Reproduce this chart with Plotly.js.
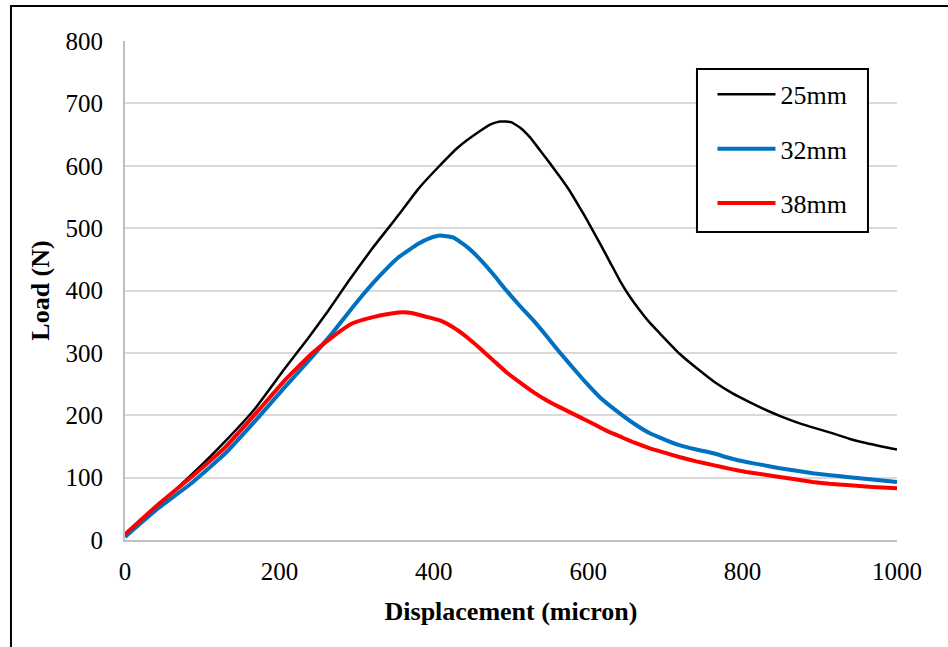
<!DOCTYPE html>
<html>
<head>
<meta charset="utf-8">
<script src="https://cdn.plot.ly/plotly-3.0.1.min.js"></script>
<style>
html,body{margin:0;padding:0;background:#fff;}
#chart{width:948px;height:647px;}
</style>
</head>
<body>
<div id="chart"></div>
<script>
// Series names
const seriesNames = ["25mm", "32mm", "38mm"];

// 25mm (black)
const x25 = [0,43,95,125,168,207,237,263,289,320,341,358,380,406,432,458,475,486,500,512,525,538,551,564,577,589,598,615,628,641,654,667,680,693,718,744,765,787,809,831,852,874,895,917,939,961,980,1000];
const y25 = [8,55,115,152,210,275,323,367,414,467,500,527,563,598,630,654,667,671,670,661,645,624,603,581,558,533,514,476,446,416,390,368,348,331,299,272,252,235,221,208,197,187,179,171,162,155,150,145];

// 32mm (blue)
const x32 = [0,43,86,130,173,207,242,268,302,328,354,380,395,408,425,443,460,477,494,511,529,546,563,581,598,615,641,660,680,699,718,740,762,784,805,827,848,870,891,913,935,968,1000];
const y32 = [5,51,91,139,197,245,293,331,384,421,453,475,484,488,485,470,450,426,400,376,352,327,301,275,251,229,203,186,171,161,152,145,139,131,125,120,115,111,107,104,101,97,93];

// 38mm (red)
const x38 = [0,43,86,130,173,207,242,268,294,320,345,360,371,390,408,425,443,460,477,494,511,529,546,563,589,607,624,641,660,680,699,718,740,762,784,805,827,848,870,891,913,935,968,1000];
const y38 = [9,57,101,149,208,256,299,325,347,357,363,365,364,358,352,341,325,307,288,269,253,237,224,213,197,186,175,166,156,147,140,133,126,120,114,109,105,101,97,93,90,88,85,83];

const xTicks = [0,200,400,600,800,1000];
const yTicks = [0,100,200,300,400,500,600,700,800];

const FONT = 'Liberation Serif, Times New Roman, serif';

const traces = [
  {x: x25, y: y25, name: seriesNames[0], mode: 'lines', legendgroup: 'a',
   line: {color: '#000000', width: 2.5, shape: 'spline', smoothing: 0.4}},
  {x: x32, y: y32, name: seriesNames[1], mode: 'lines', legendgroup: 'b',
   line: {color: '#0070C0', width: 4, shape: 'spline', smoothing: 0.4}},
  {x: x38, y: y38, name: seriesNames[2], mode: 'lines', legendgroup: 'c',
   line: {color: '#FF0000', width: 4, shape: 'spline', smoothing: 0.4}}
];

const layout = {
  width: 948, height: 647,
  margin: {l: 125, r: 51, t: 41, b: 107},
  paper_bgcolor: '#ffffff', plot_bgcolor: '#ffffff',
  font: {family: FONT, size: 26, color: '#000000'},
  showlegend: true,
  legend: {
    x: 0.761, y: 0.94, xanchor: 'left', yanchor: 'top',
    bgcolor: 'rgba(0,0,0,0)', borderwidth: 0,
    font: {family: FONT, size: 26, color: '#000000'},
    tracegroupgap: 17.5, itemwidth: 58
  },
  xaxis: {
    range: [0, 1000], tickvals: xTicks, ticktext: xTicks.map(String),
    showgrid: false, zeroline: false,
    showline: true, linecolor: '#BFBFBF', linewidth: 2,
    ticks: '', ticklabelstandoff: 8,
    tickfont: {family: FONT, size: 25, color: '#000'},
    title: {text: '<b>Displacement (micron)</b>', font: {family: FONT, size: 26, color: '#000'}, standoff: 18},
    fixedrange: true
  },
  yaxis: {
    range: [0, 800], tickvals: yTicks, ticktext: yTicks.map(String),
    showgrid: true, gridcolor: '#D9D9D9', gridwidth: 2, zeroline: false,
    showline: true, linecolor: '#BFBFBF', linewidth: 2,
    ticks: '', ticklabelstandoff: 15,
    tickfont: {family: FONT, size: 25, color: '#000'},
    title: {text: '<b>Load (N)</b>', font: {family: FONT, size: 26, color: '#000'}, standoff: 8},
    fixedrange: true
  },
  shapes: [
    {type: 'rect', xref: 'paper', yref: 'paper', layer: 'above',
     x0: 0.7409, x1: 0.9624, y0: 0.6172, y1: 0.9439,
     line: {color: '#000000', width: 2}, fillcolor: '#ffffff'},
    {type: 'rect', xref: 'paper', yref: 'paper', layer: 'above',
     x0: -0.1477, x1: 1.3, y0: -0.4, y1: 1.0701,
     line: {color: '#000000', width: 2}, fillcolor: 'rgba(0,0,0,0)'}
  ]
};

Plotly.newPlot('chart', traces, layout, {displayModeBar: false, staticPlot: true});
</script>
</body>
</html>
